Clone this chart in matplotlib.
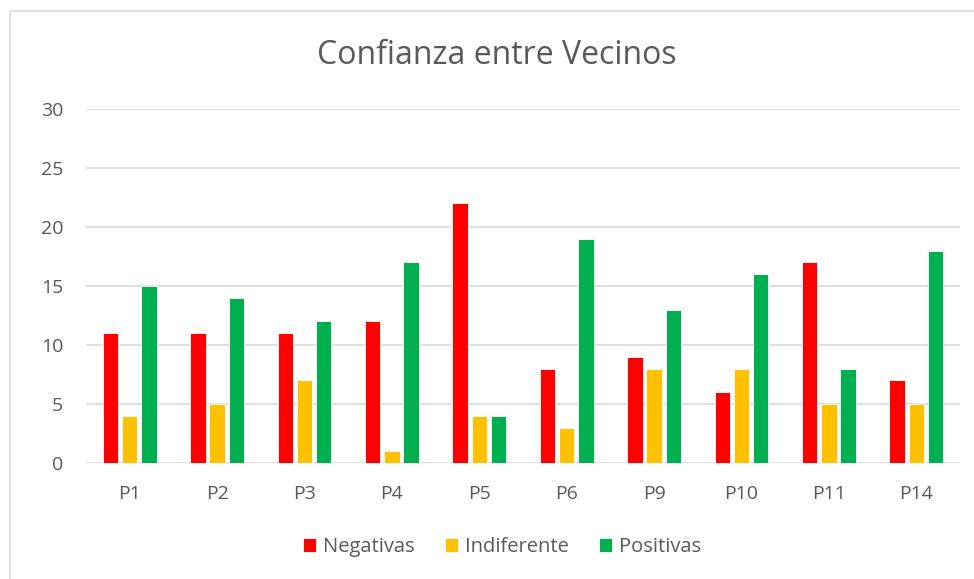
import numpy as np
import matplotlib.pyplot as plt
from matplotlib.patches import Rectangle

categories = ["P1", "P2", "P3", "P4", "P5", "P6", "P9", "P10", "P11", "P14"]
negativas = [11, 11, 11, 12, 22, 8, 9, 6, 17, 7]
indiferente = [4, 5, 7, 1, 4, 3, 8, 8, 5, 5]
positivas = [15, 14, 12, 17, 4, 19, 13, 16, 8, 18]

series = [
    ("Negativas", negativas, "#FF0000"),
    ("Indiferente", indiferente, "#FFC000"),
    ("Positivas", positivas, "#00B050"),
]

TXT = "#595959"
plt.rcParams["font.family"] = ["Open Sans", "DejaVu Sans"]

W, H = 974, 579
fig = plt.figure(figsize=(W / 100, H / 100), dpi=100)
fig.patch.set_facecolor("white")

# chart border (Excel-style)
fig.add_artist(Rectangle((9.5 / W, -0.1), 1.2, (H - 10.5) / H + 0.1,
                         transform=fig.transFigure, fill=False,
                         ec="#D9D9D9", lw=1.2))

ax = fig.add_axes([86 / W, (H - 463) / H, (960 - 86) / W, (463 - 109) / H])
x = np.arange(len(categories))
bw, step = 0.175, 0.22
for i, (name, vals, col) in enumerate(series):
    ax.bar(x + (i - 1) * step, vals, bw, color=col, label=name,
           edgecolor="white", linewidth=0.6, zorder=3)

ax.set_xlim(-0.5, len(categories) - 0.5)
ax.set_ylim(0, 30)
ax.set_yticks(range(0, 31, 5))
ax.set_xticks(x)
ax.set_xticklabels(categories)
ax.yaxis.grid(True, color="#D9D9D9", lw=1.2, zorder=0)
for s in ax.spines.values():
    s.set_visible(False)
ax.tick_params(length=0, labelsize=14, colors=TXT)
ax.tick_params(axis="x", pad=16)
ax.tick_params(axis="y", pad=16.5)

fig.text(497 / W, 1 - 55 / H, "Confianza entre Vecinos", ha="center",
         va="center", fontsize=23, color=TXT)

ax.legend(loc="center", bbox_to_anchor=(502 / W, (H - 547) / H),
          bbox_transform=fig.transFigure, ncol=3, frameon=False,
          fontsize=14.5, labelcolor=TXT, handlelength=0.65, handleheight=0.65,
          handletextpad=0.35, columnspacing=1.5)

fig.savefig("out.png", dpi=100, facecolor="white")
